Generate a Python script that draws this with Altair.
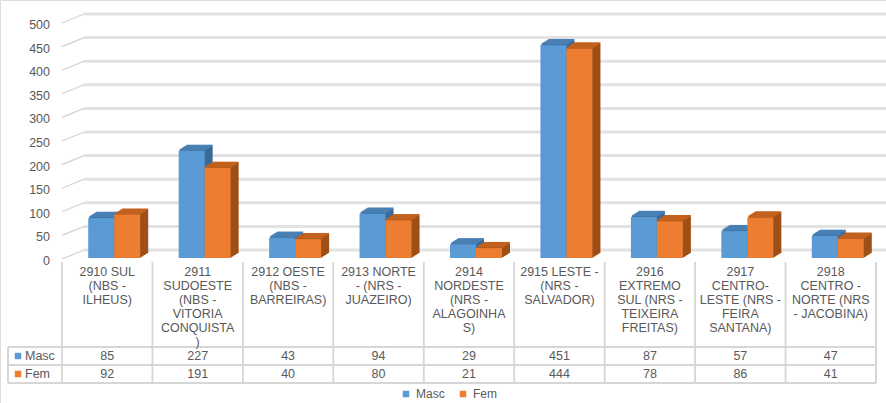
import altair as alt
import pandas as pd

# Regions (category keys) and the wrapped header text shown in the data table
categories = [
    "2910 SUL (NBS - ILHEUS)",
    "2911 SUDOESTE (NBS - VITORIA CONQUISTA)",
    "2912 OESTE (NBS - BARREIRAS)",
    "2913 NORTE - (NRS - JUAZEIRO)",
    "2914 NORDESTE (NRS - ALAGOINHAS)",
    "2915 LESTE - (NRS - SALVADOR)",
    "2916 EXTREMO SUL (NRS - TEIXEIRA FREITAS)",
    "2917 CENTRO-LESTE (NRS - FEIRA SANTANA)",
    "2918 CENTRO - NORTE (NRS - JACOBINA)",
]
header_lines = [
    "2910 SUL\n(NBS -\nILHEUS)",
    "2911\nSUDOESTE\n(NBS -\nVITORIA\nCONQUISTA\n)",
    "2912 OESTE\n(NBS -\nBARREIRAS)",
    "2913 NORTE\n- (NRS -\nJUAZEIRO)",
    "2914\nNORDESTE\n(NRS -\nALAGOINHA\nS)",
    "2915 LESTE -\n(NRS -\nSALVADOR)",
    "2916\nEXTREMO\nSUL (NRS -\nTEIXEIRA\nFREITAS)",
    "2917\nCENTRO-\nLESTE (NRS -\nFEIRA\nSANTANA)",
    "2918\nCENTRO -\nNORTE (NRS\n- JACOBINA)",
]
masc = [85, 227, 43, 94, 29, 451, 87, 57, 47]
fem = [92, 191, 40, 80, 21, 444, 78, 86, 41]
series = ["Masc", "Fem"]
y_ticks = list(range(0, 501, 50))

# Palette
front = {"Masc": "#5b9bd5", "Fem": "#ed7d31"}
side = {"Masc": "#3a6a98", "Fem": "#9e4f17"}
top = {"Masc": "#4a80b4", "Fem": "#c2621f"}
TEXT = "#595959"
GRID = "#e2e2e2"
BORDER = "#d6d6d6"
FONT = "Liberation Sans"

rows = []
for i, c in enumerate(categories):
    rows.append({"cat": c, "series": "Masc", "value": masc[i], "hdr": header_lines[i]})
    rows.append({"cat": c, "series": "Fem", "value": fem[i], "hdr": header_lines[i]})
df = pd.DataFrame(rows)
head_df = pd.DataFrame({"cat": categories, "hdr": header_lines})
tick_df = pd.DataFrame({"tick": y_ticks})

x_scale = alt.Scale(domain=categories, range=[62, 876], paddingInner=0, paddingOuter=0)
y_scale = alt.Scale(domain=[0, 500], range=[258, 22])
X = alt.X("cat:N", scale=x_scale, axis=None, sort=None)
Y = alt.Y("value:Q", scale=y_scale, axis=None)
color_scale = alt.Scale(domain=series, range=[front["Masc"], front["Fem"]])

BAR_W = 26
bar_shift = {"Masc": -6, "Fem": 20}
DEPTH = 8
RISE = 0.62

layers = []

# back-wall gridlines and the slanted ticks joining them to the labels
layers.append(
    alt.Chart(tick_df).mark_rule(color=GRID, strokeWidth=3, yOffset=-8).encode(
        y=alt.Y("tick:Q", scale=y_scale, axis=None), x=alt.value(84), x2=alt.value(886)
    )
)
layers.append(
    alt.Chart(tick_df).mark_rule(color="#d2d2d2", strokeWidth=1.2, yOffset=1, y2Offset=-8).encode(
        y=alt.Y("tick:Q", scale=y_scale, axis=None), y2="tick:Q",
        x=alt.value(62), x2=alt.value(84)
    )
)
layers.append(
    alt.Chart(tick_df).mark_text(align="right", baseline="middle", dy=3, fontSize=12.5,
                                 font=FONT, color=TEXT).encode(
        y=alt.Y("tick:Q", scale=y_scale, axis=None), x=alt.value(50), text="tick:Q"
    )
)

# 3-D columns: extruded depth, top face, then the front face
for s in series:
    base = alt.Chart(df).transform_filter(alt.datum.series == s)
    for k in range(1, DEPTH + 1):
        layers.append(
            base.mark_bar(width=BAR_W, color=side[s], xOffset=bar_shift[s] + k,
                          yOffset=-RISE * k, y2Offset=-RISE * k).encode(x=X, y=Y)
        )
    for k in range(1, DEPTH + 1):
        layers.append(
            base.mark_bar(width=BAR_W, color=top[s], xOffset=bar_shift[s] + k,
                          yOffset=-RISE * k - 1.2, y2Offset=-RISE * k + 0.2).encode(
                x=X, y=Y, y2="value:Q")
        )
    layers.append(
        base.mark_bar(width=BAR_W, xOffset=bar_shift[s]).encode(
            x=X, y=Y,
            color=alt.Color(
                "series:N", scale=color_scale, sort=series,
                legend=alt.Legend(
                    title=None, orient="none", legendX=400, legendY=388,
                    direction="horizontal", symbolType="square", symbolSize=42,
                    symbolStrokeWidth=0, labelFontSize=12, labelFont=FONT,
                    labelColor=TEXT, columnPadding=12, labelOffset=4,
                ),
            ),
        )
    )

# data table: grid lines
layers.append(
    alt.Chart(head_df).mark_rule(color=BORDER, strokeWidth=1.8).encode(
        x=alt.X("cat:N", scale=x_scale, axis=None, bandPosition=0),
        y=alt.value(262), y2=alt.value(383)
    )
)
layers.append(
    alt.Chart(head_df).mark_rule(color=BORDER, strokeWidth=1.8).encode(
        x=alt.value(876), y=alt.value(262), y2=alt.value(383)
    )
)
layers.append(
    alt.Chart(head_df).mark_rule(color=BORDER, strokeWidth=1.8).encode(
        x=alt.value(8), y=alt.value(347), y2=alt.value(383)
    )
)
for yy in (347, 365, 383):
    layers.append(
        alt.Chart(head_df).mark_rule(color=BORDER, strokeWidth=1.8).encode(
            x=alt.value(8), x2=alt.value(876), y=alt.value(yy)
        )
    )

# data table: category headers
layers.append(
    alt.Chart(head_df).mark_text(align="center", baseline="top", lineBreak="\n",
                                 lineHeight=14, fontSize=12.5, font=FONT, color=TEXT).encode(
        x=X, y=alt.value(266), text="hdr:N"
    )
)

# data table: value rows with their keys
row_y = {"Masc": 356, "Fem": 374}
for s in series:
    base = alt.Chart(df).transform_filter(alt.datum.series == s)
    layers.append(
        base.mark_text(align="center", baseline="middle", fontSize=12.5, font=FONT,
                       color=TEXT).encode(x=X, y=alt.value(row_y[s]), text="value:Q")
    )
    key = alt.Chart(pd.DataFrame({"series": [s]}))
    layers.append(
        key.mark_square(size=42, opacity=1).encode(
            x=alt.value(18), y=alt.value(row_y[s]),
            color=alt.Color("series:N", scale=color_scale, legend=None)
        )
    )
    layers.append(
        key.mark_text(align="left", baseline="middle", fontSize=12.5, font=FONT,
                      color=TEXT).encode(x=alt.value(25), y=alt.value(row_y[s]),
                                         text="series:N")
    )

chart = (
    alt.layer(*layers)
    .properties(width=886, height=403, autosize=alt.AutoSizeParams(type="none"), padding=0)
    .configure_view(stroke=None)
    .configure(background="white")
)

chart.save("out.html", embed_options={"renderer": "svg", "actions": False})
